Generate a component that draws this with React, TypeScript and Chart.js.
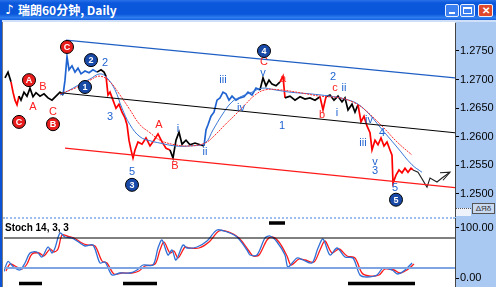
import React, { useEffect, useRef } from "react";
import { Chart, registerables } from "chart.js";
Chart.register(...registerables);

const FONT = '"Liberation Sans", Arial, sans-serif';

// ---------- price path (time index, price) ----------
const priceT = [1,4,7,9,11,13,15,17,20,23,26,29,32,36,40,44,48,52,56,59,61,63,65,68,71,74,77,81,85,89,93,97,100,102,104,106,109,112,115,118,121,123,125,127,129,131,134,138,142,146,150,154,158,162,166,169,172,175,178,182,186,191,196,200,202,204,207,210,213,216,219,222,225,228,232,236,240,244,248,252,256,259,262,265,268,272,276,279,281,286,291,296,301,306,311,316,319,322,326,330,334,338,341,344,348,351,354,357,360,363,366,368,371,374,377,380,383,386,388,389,392,395,398,401,404,407,409];
const priceV = [1.2703,1.2713,1.2696,1.2678,1.2664,1.2656,1.2671,1.2664,1.2678,1.2671,1.2685,1.2670,1.2677,1.2671,1.2675,1.2668,1.2664,1.2671,1.2678,1.2673,1.2699,1.2740,1.2717,1.2724,1.2713,1.2720,1.2710,1.2715,1.2712,1.2717,1.2713,1.2717,1.2713,1.2706,1.2673,1.2678,1.2664,1.2650,1.2657,1.2643,1.2633,1.2621,1.2594,1.2577,1.2563,1.2577,1.2591,1.2587,1.2598,1.2584,1.2594,1.2605,1.2591,1.2580,1.2577,1.2563,1.2594,1.2608,1.2587,1.2594,1.2586,1.2589,1.2586,1.2584,1.2612,1.2621,1.2636,1.2643,1.2664,1.2668,1.2678,1.2675,1.2664,1.2671,1.2664,1.2668,1.2670,1.2678,1.2673,1.2685,1.2682,1.2703,1.2689,1.2699,1.2692,1.2689,1.2696,1.2706,1.2668,1.2671,1.2664,1.2670,1.2666,1.2668,1.2664,1.2670,1.2647,1.2670,1.2673,1.2664,1.2671,1.2661,1.2668,1.2647,1.2657,1.2643,1.2656,1.2626,1.2636,1.2619,1.2607,1.2577,1.2594,1.2586,1.2598,1.2584,1.2591,1.2577,1.2568,1.2519,1.2533,1.2542,1.2537,1.2545,1.2538,1.2545,1.2542];
const priceColorRuns: [string, number][] = [["k",2],["r",4],["k",13],["b",11],["k",3],["r",21],["k",9],["b",17],["k",6],["r",2],["k",7],["r",2],["k",9],["r",21]];

// hand-drawn projection
const projT = [409,414,423,426,433,438,446];
const projV = [1.2542,1.2538,1.2512,1.2528,1.2521,1.2528,1.2538];
const arrowT = [436,446,439];
const arrowV = [1.2537,1.2538,1.2524];

// moving averages
const maRedT = [56,71,86,96,106,116,126,136,146,156,171,186,201,211,221,231,241,251,261,276,296,316,336,351,361,379,393,408];
const maRedV = [1.2675,1.2685,1.2699,1.2706,1.2696,1.2673,1.2647,1.2621,1.2607,1.2594,1.2586,1.2584,1.2589,1.2603,1.2621,1.2638,1.2656,1.2673,1.2682,1.2682,1.2677,1.2671,1.2668,1.2659,1.2647,1.2617,1.2591,1.2568];
const maBlueT = [56,66,76,86,96,103,111,118,126,136,146,156,171,186,201,209,218,228,238,248,258,271,286,306,326,341,354,366,376,393,408,418];
const maBlueV = [1.2673,1.2682,1.2692,1.2701,1.2710,1.2703,1.2682,1.2650,1.2621,1.2600,1.2593,1.2589,1.2584,1.2584,1.2589,1.2612,1.2638,1.2661,1.2671,1.2678,1.2685,1.2682,1.2678,1.2675,1.2671,1.2666,1.2657,1.2638,1.2617,1.2582,1.2551,1.2538];

// channel lines
const upperT = [62,451]; const upperV = [1.2769,1.2703];
const midT = [56,451];   const midV = [1.2677,1.2607];
const lowerT = [61,451]; const lowerV = [1.2580,1.2511];

const priceTicks = [1.2500,1.2550,1.2600,1.2650,1.2700,1.2750];

// wave labels
const labelText = ["A","B","C","2","3","5","A","B","i","ii","iii","iv","v","C","a","1","b","2","c","ii","i","iv","iii","4","v","3","5"];
const labelT = [29,39,49,101,106,128,155,171,174,201,219,237,259,260,279,278,318,329,331,340,333,365,359,378,371,371,391];
const labelV = [1.2652,1.2687,1.2643,1.2729,1.2635,1.2538,1.2621,1.2549,1.2614,1.2574,1.2699,1.2650,1.2712,1.2731,1.2701,1.2619,1.2638,1.2705,1.2685,1.2685,1.2642,1.2629,1.2589,1.2607,1.2556,1.2540,1.2511];
const labelColor = ["r","r","r","b","b","b","r","r","b","b","b","b","b","r","r","b","r","b","r","b","b","b","b","b","b","b","b"];

// circled wave markers
const circleText = ["C","A","B","C","1","2","3","4","5"];
const circleT = [15,25,49,63,81,87,128,260,392];
const circleV = [1.2626,1.2699,1.2622,1.2757,1.2687,1.2734,1.2516,1.2750,1.2490];
const circleColor = ["r","r","r","r","b","b","b","b","b"];

// ---------- stochastic ----------
const stochKT = [0,4,9,16,21,26,33,38,44,48,51,56,61,68,76,81,89,96,101,108,116,126,133,139,149,154,158,164,168,172,179,183,193,203,213,223,233,243,246,253,261,266,273,281,284,293,299,308,314,319,326,333,341,349,356,363,373,379,388,394,401,408];
const stochKV = [13,33,23,16,30,50,52,42,62,50,60,90,82,80,70,64,66,30,32,6,10,10,16,26,26,60,76,46,56,36,66,60,62,74,96,92,82,56,46,46,80,84,72,46,22,40,36,30,60,78,46,60,42,40,6,2,6,20,16,8,16,30];
const stochDT = [2,6,11,18,23,28,35,40,46,50,54,58,63,70,78,83,91,98,103,110,118,128,135,141,151,156,160,166,170,174,181,185,195,205,215,225,235,245,249,255,263,268,275,283,287,295,301,310,316,321,328,335,343,351,358,365,375,381,390,396,403,410];
const stochDV = [14,28,24,18,28,48,50,44,58,52,58,86,84,80,70,66,64,34,30,8,10,10,14,24,28,56,72,50,54,40,62,60,60,72,94,92,80,54,44,46,76,82,72,44,26,38,36,32,56,74,50,58,44,40,10,4,6,18,16,10,16,28];
const stochLevelHigh = 80;
const stochLevelLow = 20;
const stochTicks = [0, 100];
const markerStart = [15,119,344,265];
const markerEnd = [38,153,411,281];
const markerLevel = [-11,-11,-11,110];

const COLORS: Record<string, string> = { k: "#000000", r: "#ff0000", b: "#1f63d0" };
const pts = (t: number[], v: number[]) => t.map((x, i) => ({ x, y: v[i] }));

const whiteArea = {
  id: "whiteArea",
  beforeDraw(chart: any) {
    const { ctx, chartArea } = chart;
    ctx.save();
    ctx.fillStyle = "#ffffff";
    ctx.fillRect(0, 0, chartArea.right, chart.height);
    ctx.restore();
  },
};

const annotPlugin = {
  id: "annot",
  afterDatasetsDraw(chart: any) {
    const { ctx, scales } = chart;
    const x = scales.x, y = scales.y;
    ctx.save();
    ctx.textAlign = "center";
    ctx.textBaseline = "middle";
    labelText.forEach((s, i) => {
      ctx.fillStyle = labelColor[i] === "r" ? "#ff2020" : "#1f63d0";
      ctx.font = `11px ${FONT}`;
      ctx.fillText(s, x.getPixelForValue(labelT[i]), y.getPixelForValue(labelV[i]));
    });
    circleText.forEach((s, i) => {
      const px = x.getPixelForValue(circleT[i]);
      const py = y.getPixelForValue(circleV[i]);
      ctx.beginPath();
      ctx.arc(px, py, 6.5, 0, Math.PI * 2);
      ctx.fillStyle = circleColor[i] === "r" ? "#e81c1c" : "#1a4aa8";
      ctx.fill();
      ctx.lineWidth = 1;
      ctx.strokeStyle = "#000";
      ctx.stroke();
      ctx.fillStyle = "#fff";
      ctx.font = `bold 9px ${FONT}`;
      ctx.fillText(s, px, py + 0.5);
    });
    ctx.restore();
  },
};

export default function App() {
  const mainRef = useRef<HTMLCanvasElement>(null);
  const stochRef = useRef<HTMLCanvasElement>(null);

  useEffect(() => {
    const priceColors = priceColorRuns.flatMap(([c, n]) => Array(n).fill(c));
    const lineBase = { pointRadius: 0, fill: false, tension: 0 };

    const main = new Chart(mainRef.current!, {
      type: "line",
      data: {
        datasets: [
          { ...lineBase, data: pts(upperT, upperV), borderColor: "#1f5fc4", borderWidth: 1.3 },
          { ...lineBase, data: pts(midT, midV), borderColor: "#000", borderWidth: 1 },
          { ...lineBase, data: pts(lowerT, lowerV), borderColor: "#ff1a1a", borderWidth: 1.2 },
          { ...lineBase, data: pts(maRedT, maRedV), borderColor: "#ff2a2a", borderWidth: 1, borderDash: [2, 1], tension: 0.4 },
          { ...lineBase, data: pts(maBlueT, maBlueV), borderColor: "#3a78d8", borderWidth: 1, tension: 0.4 },
          {
            ...lineBase,
            data: pts(priceT, priceV),
            borderColor: "#000",
            borderWidth: 1.7,
            segment: { borderColor: (c: any) => COLORS[priceColors[c.p0DataIndex]] },
          },
          { ...lineBase, data: pts(projT, projV), borderColor: "#222", borderWidth: 1.1 },
          { ...lineBase, data: pts(arrowT, arrowV), borderColor: "#222", borderWidth: 1.1 },
        ] as any,
      },
      options: {
        animation: false,
        responsive: false,
        maintainAspectRatio: false,
        layout: { padding: { left: 4, top: 1, bottom: 2, right: 0 } },
        scales: {
          x: { type: "linear", min: 0, max: 451, display: false },
          y: {
            type: "linear",
            position: "right",
            min: 1.24615,
            max: 1.27989,
            afterFit(s: any) { s.width = 41; s.paddingTop = 0; s.paddingBottom = 0; },
            afterBuildTicks(s: any) { s.ticks = priceTicks.map((v) => ({ value: v })); },
            ticks: {
              color: "#000",
              padding: 1,
              font: { family: FONT, size: 11 },
              callback: (v: any) => Number(v).toFixed(4),
            },
            grid: { drawOnChartArea: false, drawTicks: true, tickLength: 4, color: "#000" },
            border: { display: true, color: "#444", dash: [1, 1] },
          },
        },
        plugins: { legend: { display: false }, tooltip: { enabled: false } },
      } as any,
      plugins: [whiteArea, annotPlugin],
    });

    const markerSets = markerStart.map((s, i) => ({
      ...lineBase,
      data: [{ x: s, y: markerLevel[i] }, { x: markerEnd[i], y: markerLevel[i] }],
      borderColor: "#000",
      borderWidth: 3.5,
      borderCapStyle: "butt",
    }));

    const stoch = new Chart(stochRef.current!, {
      type: "line",
      data: {
        datasets: [
          { ...lineBase, data: [{ x: 0, y: stochLevelHigh }, { x: 451, y: stochLevelHigh }], borderColor: "#000", borderWidth: 1 },
          { ...lineBase, data: [{ x: 0, y: stochLevelLow }, { x: 451, y: stochLevelLow }], borderColor: "#7ea4e2", borderWidth: 2 },
          { ...lineBase, data: pts(stochKT, stochKV), borderColor: "#2f6fd6", borderWidth: 1.3, tension: 0.3 },
          { ...lineBase, data: pts(stochDT, stochDV), borderColor: "#ff1a1a", borderWidth: 1.3, tension: 0.3 },
          ...markerSets,
        ] as any,
      },
      options: {
        animation: false,
        responsive: false,
        maintainAspectRatio: false,
        layout: { padding: { left: 4, top: 0, bottom: 0, right: 0 } },
        scales: {
          x: { type: "linear", min: 0, max: 451, display: false },
          y: {
            type: "linear",
            position: "right",
            min: -18,
            max: 120,
            afterFit(s: any) { s.width = 41; s.paddingTop = 0; s.paddingBottom = 0; },
            afterBuildTicks(s: any) { s.ticks = stochTicks.map((v) => ({ value: v })); },
            ticks: {
              color: "#000",
              padding: 1,
              font: { family: FONT, size: 11 },
              callback: (v: any) => Number(v).toFixed(2),
            },
            grid: { drawOnChartArea: false, drawTicks: true, tickLength: 4, color: "#000" },
            border: { display: true, color: "#444", dash: [1, 1] },
          },
        },
        plugins: { legend: { display: false }, tooltip: { enabled: false } },
      } as any,
      plugins: [whiteArea],
    });

    return () => {
      main.destroy();
      stoch.destroy();
    };
  }, []);

  const btn: React.CSSProperties = {
    position: "absolute",
    top: 4,
    height: 13,
    border: "1px solid #e8f0ff",
    borderRadius: 2,
    boxSizing: "border-box",
  };

  return (
    <div style={{ position: "fixed", left: 0, top: 0, width: 496, height: 287, background: "#a9c9f3", overflow: "hidden" }}>
      {/* title bar */}
      <div
        style={{
          position: "absolute", left: 0, top: 0, width: 496, height: 20,
          background: "linear-gradient(#2a72ea 0%, #0b58dc 15%, #0a56da 70%, #2e7ef0 88%, #1660e2 100%)",
        }}
      />
      <div style={{ position: "absolute", left: 0, top: 20, width: 496, height: 2, background: "#cfe0f8" }} />
      <div style={{ position: "absolute", left: 5, top: 2, color: "#fff", font: `bold 13px "DejaVu Sans"`, lineHeight: "16px" }}>♪</div>
      <div
        style={{
          position: "absolute", left: 18, top: 2, color: "#fff", whiteSpace: "nowrap",
          font: `bold 12px "Noto Sans CJK SC", sans-serif`, lineHeight: "16px",
        }}
      >
        瑞朗60分钟, Daily
      </div>
      <div style={{ ...btn, left: 445, width: 14, background: "#3b7ff0" }}>
        <div style={{ position: "absolute", left: 3, top: 7, width: 6, height: 2, background: "#fff" }} />
      </div>
      <div style={{ ...btn, left: 460, width: 15, background: "#3b7ff0" }}>
        <div style={{ position: "absolute", left: 2, top: 2, width: 9, height: 7, border: "1px solid #fff", borderTopWidth: 2, boxSizing: "border-box" }} />
      </div>
      <div style={{ ...btn, left: 478, width: 15, background: "#e0482c", color: "#fff", font: `bold 10px ${FONT}`, textAlign: "center", lineHeight: "11px" }}>✕</div>

      {/* charts */}
      <canvas ref={mainRef} width={496} height={196} style={{ position: "absolute", left: 0, top: 22, width: 496, height: 196 }} />
      <canvas ref={stochRef} width={496} height={69} style={{ position: "absolute", left: 0, top: 218, width: 496, height: 69 }} />

      {/* frame overlays */}
      <div style={{ position: "absolute", left: 0, top: 20, width: 2, height: 267, background: "#0a52d6" }} />
      <div style={{ position: "absolute", left: 2, top: 22, width: 1, height: 265, background: "#7a7a7a" }} />
      <div style={{ position: "absolute", left: 3, top: 217, width: 452, height: 0, borderTop: "2px dotted #9dbcf0" }} />
      <div style={{ position: "absolute", left: 5, top: 222, color: "#000", font: `bold 10px ${FONT}`, whiteSpace: "nowrap" }}>Stoch 14, 3, 3</div>

      {/* small status boxes on the price axis */}
      <div style={{ position: "absolute", left: 456, top: 208, width: 15, height: 7, background: "#eef3fb", borderTop: "1px dotted #555" }} />
      <div
        style={{
          position: "absolute", left: 472, top: 203, width: 23, height: 11, background: "#c9d9f0",
          border: "1px solid #555", boxSizing: "border-box", color: "#333", font: `8px ${FONT}`,
          lineHeight: "9px", textAlign: "center",
        }}
      >
        ΔЯδ
      </div>
    </div>
  );
}
